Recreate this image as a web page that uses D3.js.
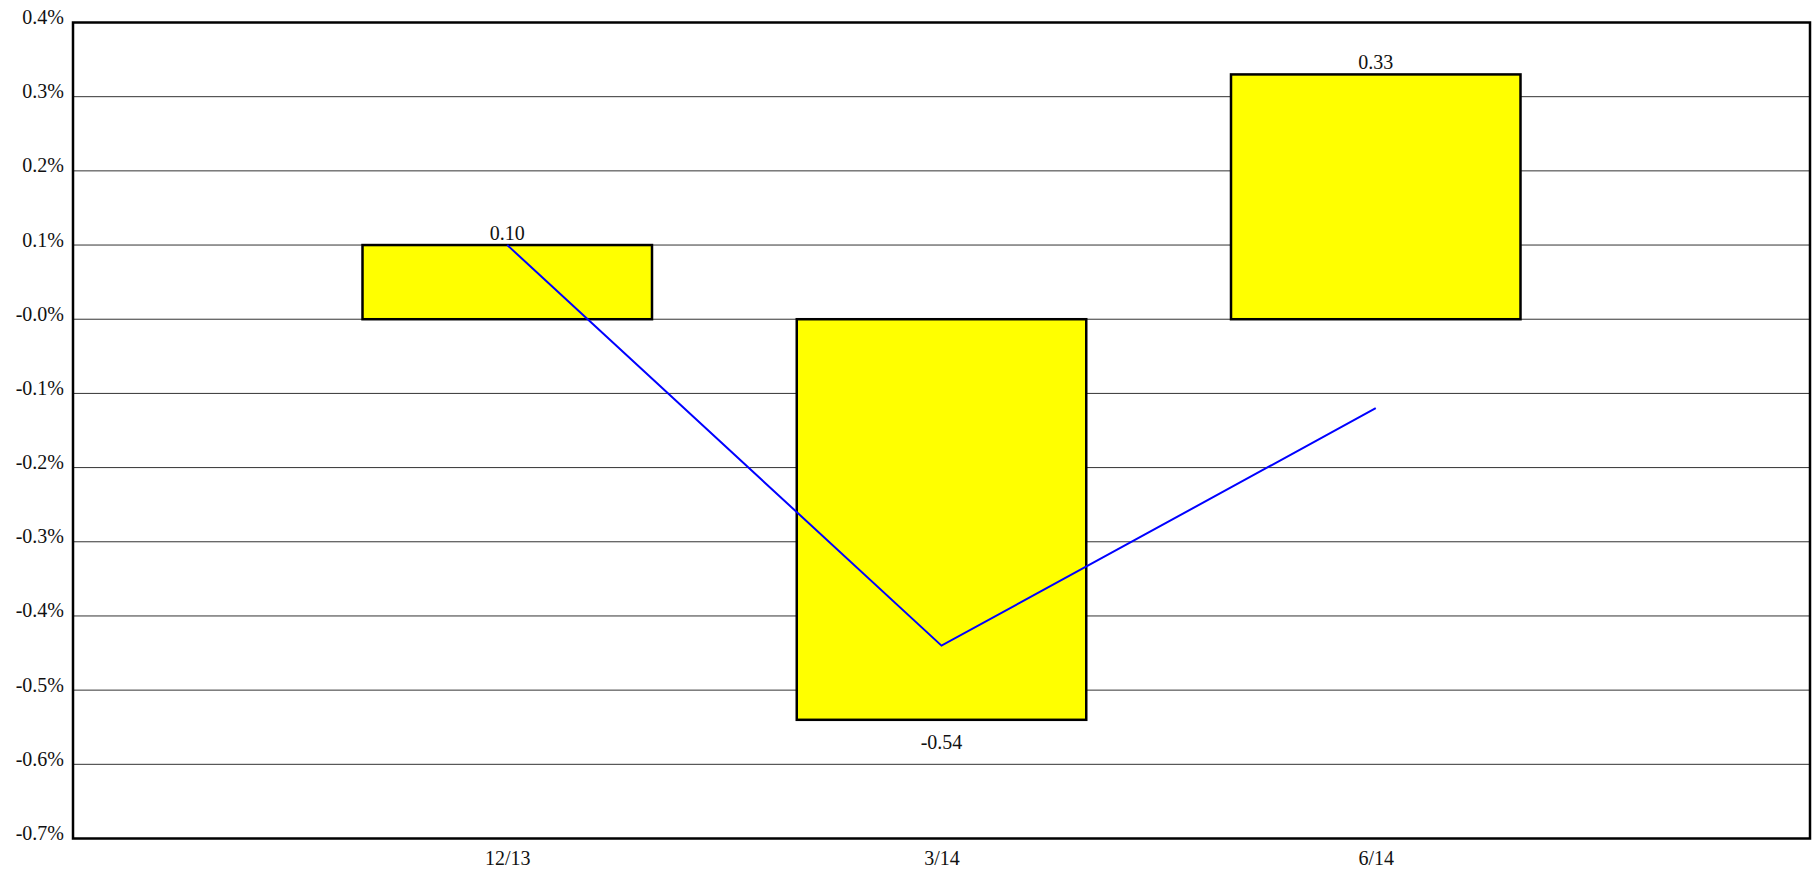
<!DOCTYPE html>
<html>
<head>
<meta charset="utf-8">
<script src="https://cdn.jsdelivr.net/npm/d3@7"></script>
<style>
  body { margin: 0; background: #fff; }
  text { font-family: "Liberation Serif", "Times New Roman", serif; fill: #111; }
</style>
</head>
<body>
<div id="chart"></div>
<script>
// quarters and values (in %)
var categories = ["12/13", "3/14", "6/14"];
var barValues = [0.10, -0.54, 0.33];
var lineValues = [0.10, -0.44, -0.12];
var tickValues = [0.4, 0.3, 0.2, 0.1, 0, -0.1, -0.2, -0.3, -0.4, -0.5, -0.6, -0.7];
var tickLabels = ["0.4%", "0.3%", "0.2%", "0.1%", "-0.0%", "-0.1%", "-0.2%", "-0.3%", "-0.4%", "-0.5%", "-0.6%", "-0.7%"];

var width = 1820, height = 875;
// plot box (note: "top" is reserved on window, so use other names)
var plotL = 73, plotR = 1810, plotT = 22.5, plotB = 838.5;
var fontSize = 20;

var svg = d3.select("#chart").append("svg")
  .attr("width", width)
  .attr("height", height);

var x = d3.scalePoint()
  .domain(categories)
  .range([plotL, plotR])
  .padding(1);

var y = d3.scaleLinear()
  .domain([-0.7, 0.4])
  .range([plotB, plotT]);

var barW = x.step() * 2 / 3;

// grid lines
svg.append("g")
  .selectAll("line")
  .data(tickValues.slice(1, -1))
  .enter().append("line")
  .attr("x1", plotL).attr("x2", plotR)
  .attr("y1", function(d) { return y(d); })
  .attr("y2", function(d) { return y(d); })
  .attr("stroke", "#333")
  .attr("stroke-width", 1);

// y axis labels, baseline sitting on the grid line
var yAxis = d3.axisLeft(y)
  .tickValues(tickValues)
  .tickSize(0)
  .tickPadding(9)
  .tickFormat(function(d, i) { return tickLabels[i]; });

var gy = svg.append("g")
  .attr("transform", "translate(" + plotL + ",0)")
  .call(yAxis);
gy.select(".domain").remove();
gy.attr("font-family", "Liberation Serif").attr("font-size", fontSize);
gy.selectAll("text")
  .attr("fill", "#111")
  .attr("dy", "0.05em");

// x axis labels
var xAxis = d3.axisBottom(x).tickSize(0).tickPadding(12);
var gx = svg.append("g")
  .attr("transform", "translate(0," + plotB + ")")
  .call(xAxis);
gx.select(".domain").remove();
gx.attr("font-family", "Liberation Serif").attr("font-size", fontSize);
gx.selectAll("text").attr("fill", "#111");

// bars
svg.append("g")
  .selectAll("rect")
  .data(barValues)
  .enter().append("rect")
  .attr("x", function(d, i) { return x(categories[i]) - barW / 2; })
  .attr("y", function(d) { return y(Math.max(0, d)); })
  .attr("width", barW)
  .attr("height", function(d) { return Math.abs(y(d) - y(0)); })
  .attr("fill", "#ffff00")
  .attr("stroke", "#000")
  .attr("stroke-width", 2.5);

// bar value labels (plain hyphen for negatives, like the original)
svg.append("g")
  .selectAll("text")
  .data(barValues)
  .enter().append("text")
  .attr("x", function(d, i) { return x(categories[i]); })
  .attr("y", function(d) { return d >= 0 ? y(d) - 5 : y(d) + 29; })
  .attr("text-anchor", "middle")
  .attr("font-size", fontSize)
  .text(function(d) { return d.toFixed(2); });

// line
var line = d3.line()
  .x(function(d, i) { return x(categories[i]); })
  .y(function(d) { return y(d); });

svg.append("path")
  .datum(lineValues)
  .attr("d", line)
  .attr("fill", "none")
  .attr("stroke", "#0000ff")
  .attr("stroke-width", 2);

// plot border
svg.append("rect")
  .attr("x", plotL).attr("y", plotT)
  .attr("width", plotR - plotL)
  .attr("height", plotB - plotT)
  .attr("fill", "none")
  .attr("stroke", "#000")
  .attr("stroke-width", 2.5);
</script>
</body>
</html>
